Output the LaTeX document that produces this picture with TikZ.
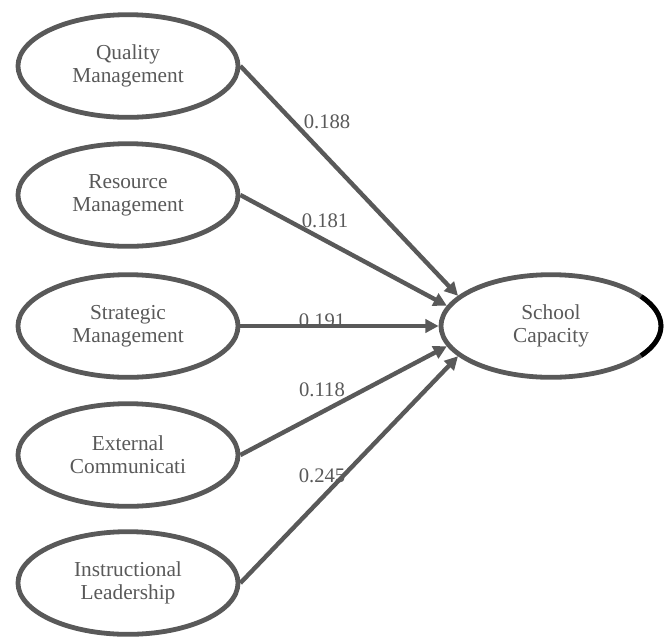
\documentclass[tikz,border=0pt]{standalone}
\usepackage{fontspec}
\setmainfont{Liberation Serif}
\usepackage{tikz}
\usetikzlibrary{calc}
\usetikzlibrary{shapes.geometric}
\usetikzlibrary{arrows.meta}

\definecolor{pathgray}{HTML}{595959}

\begin{document}
\begin{tikzpicture}[x=0.75pt,y=-0.75pt]
            \tikzset{
                latent/.style={ellipse,draw=pathgray,line width=3.6pt,text=pathgray,align=center,
                    minimum width=165pt,minimum height=77pt,inner sep=0pt,
                    font=\fontsize{16}{17.5}\selectfont},
                path/.style={pathgray,line width=3.3pt,-{Triangle[length=10pt,width=10pt]}},
                coef/.style={text=pathgray,font=\fontsize{15.5}{17}\selectfont,inner sep=0pt}
            }
            \useasboundingbox (0,0) rectangle (668,637);

            \node[latent] (qm) at (128,66) {Quality\\Management};
            \node[latent] (rm) at (128,195) {Resource\\Management};
            \node[latent] (sm) at (128,326) {Strategic\\Management};
            \node[latent] (ec) at (128,455) {External\\Communicati};
            \node[latent] (il) at (128,583) {Instructional\\Leadership};
            \node[latent] (sc) at (551,326) {School\\Capacity};

            \draw[black,line width=3.6pt] ($(sc.center)+(-35:110 and 51.5)$) arc[start angle=-35,end angle=35,x radius=110,y radius=51.5];

            \draw[path] (qm.east)--(sc.162);
            \draw[path] (rm.east)--(sc.169);
            \draw[path] (sm.east)--(sc.180);
            \draw[path] (ec.east)--(sc.191);
            \draw[path] (il.east)--(sc.198);

            \node[coef] (b1) at (327,122) {0.188};
            \node[coef] (b2) at (325,221) {0.181};
            \node[coef] (b3) at (322,321) {0.191};
            \node[coef] (b4) at (322,390) {0.118};
            \node[coef] (b5) at (322,476) {0.245};

        \end{tikzpicture}
\end{document}
